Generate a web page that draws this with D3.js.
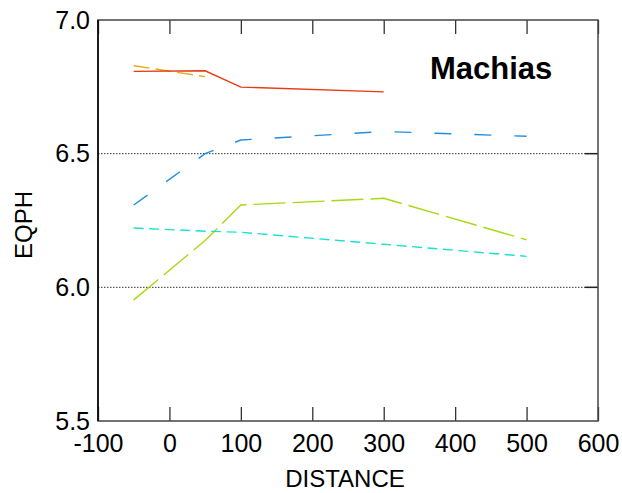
<!DOCTYPE html>
<html><head><meta charset="utf-8">
<script src="https://cdn.jsdelivr.net/npm/d3@7"></script>
<style>
body{margin:0;background:#fff;}
text{font-family:"Liberation Sans",Arial,sans-serif;fill:#000;}
</style></head>
<body><svg id="c" width="622" height="493"></svg>
<script>
const xTicks = [-100, 0, 100, 200, 300, 400, 500, 600];
const yTicks = [5.5, 6.0, 6.5, 7.0];
const gridValues = [6.0, 6.5];
const redX = [-50, 50, 100, 300];
const redY = [6.808, 6.810, 6.749, 6.731];
const orangeX = [-50, 50];
const orangeY = [6.829, 6.788];
const blueX = [-50, 50, 100, 300, 500];
const blueY = [6.308, 6.500, 6.551, 6.583, 6.565];
const greenX = [-50, 50, 100, 300, 500];
const greenY = [5.953, 6.175, 6.308, 6.333, 6.178];
const cyanX = [-50, 50, 100, 300, 500];
const cyanY = [6.222, 6.210, 6.206, 6.161, 6.116];

const svg = d3.select("#c");
const L = 98, R = 598, T = 20, B = 421;
const x = d3.scaleLinear().domain([-100, 600]).range([L, R]);
const y = d3.scaleLinear().domain([5.5, 7.0]).range([B, T]);

// gridlines
svg.selectAll("line.grid").data(gridValues).enter().append("line")
  .attr("x1", L).attr("x2", R).attr("y1", d => y(d)).attr("y2", d => y(d))
  .attr("stroke", "#333").attr("stroke-width", 1).attr("stroke-dasharray", "1.5,1.5");

// right inward ticks
svg.selectAll("line.rt").data(gridValues).enter().append("line")
  .attr("x1", R - 13).attr("x2", R).attr("y1", d => y(d)).attr("y2", d => y(d))
  .attr("stroke", "#222").attr("stroke-width", 1.5);

// bottom axis
const gx = svg.append("g").attr("transform", `translate(0,${B})`)
  .call(d3.axisBottom(x).tickValues(xTicks).tickFormat(d => String(d)).tickSize(-14).tickPadding(13));
gx.select(".domain").remove();
gx.selectAll(".tick line").attr("stroke", "#333").attr("stroke-width", 1.3);
gx.selectAll(".tick text").attr("font-size", 25).attr("font-family", "Liberation Sans, Arial, sans-serif");

// top ticks
const gt = svg.append("g").attr("transform", `translate(0,${T})`)
  .call(d3.axisTop(x).tickValues(xTicks).tickFormat("").tickSize(-14));
gt.select(".domain").remove();
gt.selectAll(".tick line").attr("stroke", "#333").attr("stroke-width", 1.3);

// left axis labels
const gy = svg.append("g").attr("transform", `translate(${L},0)`)
  .call(d3.axisLeft(y).tickValues(yTicks).tickFormat(d => d.toFixed(1)).tickSize(0).tickPadding(8));
gy.select(".domain").remove();
gy.selectAll(".tick text").attr("font-size", 25).attr("font-family", "Liberation Sans, Arial, sans-serif");

// frame
svg.append("rect").attr("x", L).attr("y", T).attr("width", R - L).attr("height", B - T)
  .attr("fill", "none").attr("stroke", "#444").attr("stroke-width", 1.5);
svg.append("line").attr("x1", L).attr("x2", L).attr("y1", T).attr("y2", B)
  .attr("stroke", "#000").attr("stroke-width", 1.5);

// series
const line = d3.line().x(d => x(d[0])).y(d => y(d[1]));
const series = [
  {xs: orangeX, ys: orangeY, color: "#e8aa18", dash: "16,6"},
  {xs: redX, ys: redY, color: "#e43c14", dash: null},
  {xs: blueX, ys: blueY, color: "#1e8fe0", dash: "17,23"},
  {xs: greenX, ys: greenY, color: "#a6da10", dash: "32,7"},
  {xs: cyanX, ys: cyanY, color: "#18e2d2", dash: "10,5.5"}
];
series.forEach(s => {
  svg.append("path").datum(s.xs.map((v, i) => [v, s.ys[i]]))
    .attr("d", line).attr("fill", "none").attr("stroke", s.color)
    .attr("stroke-width", 1.4).attr("stroke-dasharray", s.dash);
});

// titles
svg.append("text").attr("x", 345).attr("y", 487).attr("text-anchor", "middle")
  .attr("font-size", 24).text("DISTANCE");
svg.append("text").attr("transform", "translate(32,225) rotate(-90)").attr("text-anchor", "middle")
  .attr("font-size", 24).text("EQPH");
svg.append("text").attr("x", 430).attr("y", 79).attr("font-size", 31).attr("font-weight", "bold")
  .text("Machias");
</script></body></html>
